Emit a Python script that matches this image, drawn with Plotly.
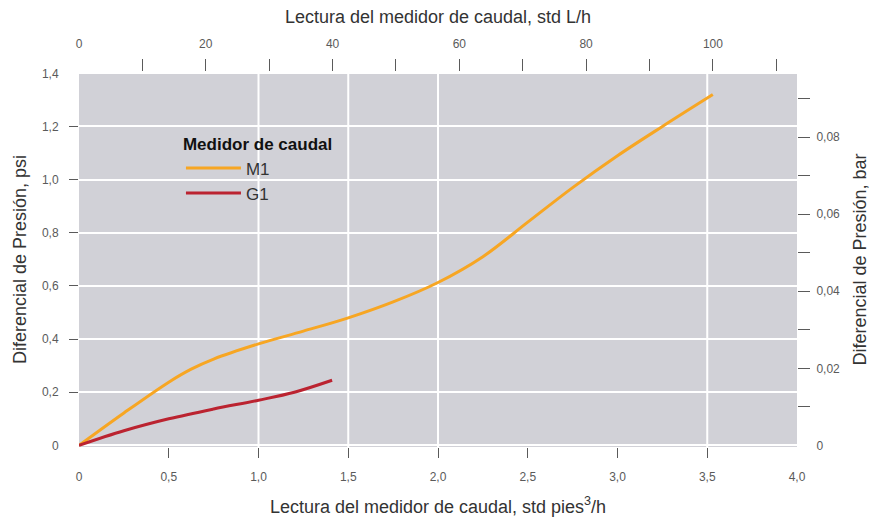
import plotly.graph_objects as go

# Flow-meter readings (std ft³/h) and pressure drop (psi)
m1_flow = [0, 0.25, 0.5, 0.625, 0.75, 1.0, 1.25, 1.5, 1.75, 2.0, 2.25, 2.5, 2.75, 3.0, 3.25, 3.531]
m1_dp = [0, 0.122, 0.238, 0.287, 0.325, 0.382, 0.43, 0.48, 0.54, 0.613, 0.71, 0.84, 0.97, 1.09, 1.20, 1.32]

g1_flow = [0, 0.25, 0.5, 0.75, 1.0, 1.2, 1.41]
g1_dp = [0, 0.055, 0.1, 0.137, 0.17, 0.2, 0.245]

# Axis ticks
x_ticks = [0, 0.5, 1.0, 1.5, 2.0, 2.5, 3.0, 3.5, 4.0]
x_labels = ["0", "0,5", "1,0", "1,5", "2,0", "2,5", "3,0", "3,5", "4,0"]
x_marks = [0.5, 1.0, 1.5, 2.0, 2.5, 3.0, 3.5]

top_ticks = [0, 20, 40, 60, 80, 100]
top_labels = ["0", "20", "40", "60", "80", "100"]
top_marks = [10, 20, 30, 40, 50, 60, 70, 80, 90, 100, 110]

y_ticks = [0, 0.2, 0.4, 0.6, 0.8, 1.0, 1.2, 1.4]
y_labels = ["0", "0,2", "0,4", "0,6", "0,8", "1,0", "1,2", "1,4"]
y_marks = [0.2, 0.4, 0.6, 0.8, 1.0, 1.2]

bar_ticks = [0, 0.02, 0.04, 0.06, 0.08]
bar_labels = ["0", "0,02", "0,04", "0,06", "0,08"]
bar_marks = [0.01, 0.02, 0.03, 0.04, 0.05, 0.06, 0.07, 0.08, 0.09]

v_grid = [1.0, 1.5, 2.0, 3.5]

FT3_TO_L = 28.3168466
PSI_TO_BAR = 0.0689476

x_range = [0, 4.0]
y_range = [-0.006, 1.405]

FONT = "Liberation Sans, Arial, sans-serif"
TICK_COLOR = "#5a5a5a"
TITLE_COLOR = "#333333"
CLEAR = "rgba(0,0,0,0)"

fig = go.Figure()

fig.add_trace(go.Scatter(
    x=m1_flow, y=m1_dp, mode="lines", name="M1",
    line=dict(color="#f7a623", width=3, shape="spline", smoothing=1.0),
))
fig.add_trace(go.Scatter(
    x=g1_flow, y=g1_dp, mode="lines", name="G1",
    line=dict(color="#bb2330", width=3, shape="spline", smoothing=1.0),
))

# Invisible trace that carries the secondary axes
fig.add_trace(go.Scatter(x=[0], y=[0], xaxis="x2", yaxis="y2",
                         mode="markers", marker=dict(opacity=0),
                         showlegend=False, hoverinfo="skip"))

for gx in v_grid:
    fig.add_shape(type="line", xref="x", yref="paper", x0=gx, x1=gx, y0=0, y1=1,
                  line=dict(color="white", width=2), layer="below")

tick_font = dict(family=FONT, size=12, color=TICK_COLOR)
title_font = dict(family=FONT, size=18, color=TITLE_COLOR)

fig.update_layout(
    width=875, height=517,
    margin=dict(l=79, r=78, t=72, b=70),
    paper_bgcolor="white",
    plot_bgcolor="#d1d1d7",
    font=dict(family=FONT, color=TITLE_COLOR),
    showlegend=True,
    legend=dict(
        x=0.142, y=0.85, xanchor="left", yanchor="top",
        bgcolor=CLEAR, borderwidth=0,
        title=dict(text="<b>Medidor de caudal</b>",
                   font=dict(family=FONT, size=17, color="#111111")),
        font=dict(family=FONT, size=17, color="#333333"),
        itemwidth=55, tracegroupgap=0,
    ),
    xaxis=dict(
        range=x_range, tickmode="array", tickvals=x_ticks, ticktext=x_labels,
        ticks="outside", ticklen=10, tickcolor=CLEAR, tickfont=tick_font,
        ticklabelstandoff=9, automargin=False,
        minor=dict(tickmode="array", tickvals=x_marks, ticks="outside",
                   ticklen=10, tickcolor=TICK_COLOR, tickwidth=1, showgrid=False),
        showgrid=False, zeroline=False, showline=False,
        title=dict(text="Lectura del medidor de caudal, std pies<sup>3</sup>/h",
                   font=title_font, standoff=24),
    ),
    xaxis2=dict(
        overlaying="x", side="top", anchor="y",
        range=[x_range[0] * FT3_TO_L, x_range[1] * FT3_TO_L],
        tickmode="array", tickvals=top_ticks, ticktext=top_labels,
        ticks="outside", ticklen=12, tickcolor=CLEAR, tickfont=tick_font,
        ticklabelstandoff=6, automargin=False,
        minor=dict(tickmode="array", tickvals=top_marks, ticks="outside",
                   ticklen=12, tickcolor=TICK_COLOR, tickwidth=1, showgrid=False),
        showgrid=False, zeroline=False, showline=False,
        title=dict(text="Lectura del medidor de caudal, std L/h",
                   font=title_font, standoff=8),
    ),
    yaxis=dict(
        range=y_range, tickmode="array", tickvals=y_ticks, ticktext=y_labels,
        ticks="outside", ticklen=9, tickcolor=CLEAR, tickfont=tick_font,
        ticklabelstandoff=8, automargin=False,
        minor=dict(tickmode="array", tickvals=y_marks, ticks="outside",
                   ticklen=9, tickcolor=TICK_COLOR, tickwidth=1, showgrid=False),
        showgrid=True, gridcolor="white", gridwidth=2,
        zeroline=False, showline=False,
        title=dict(text="Diferencial de Presión, psi", font=title_font, standoff=10),
    ),
    yaxis2=dict(
        overlaying="y", side="right", anchor="x",
        range=[y_range[0] * PSI_TO_BAR, y_range[1] * PSI_TO_BAR],
        tickmode="array", tickvals=bar_ticks, ticktext=bar_labels,
        ticks="outside", ticklen=12, tickcolor=CLEAR, tickfont=tick_font,
        ticklabelstandoff=4, automargin=False,
        minor=dict(tickmode="array", tickvals=bar_marks, ticks="outside",
                   ticklen=12, tickcolor=TICK_COLOR, tickwidth=1, showgrid=False),
        showgrid=False, zeroline=False, showline=False,
        title=dict(text="Diferencial de Presión, bar", font=title_font, standoff=14),
    ),
)

fig.write_html("out.html")
